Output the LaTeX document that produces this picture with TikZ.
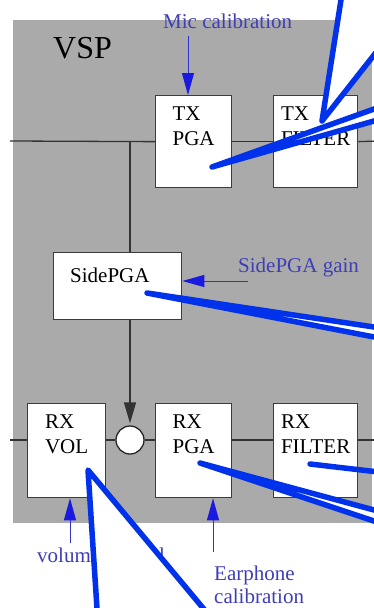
\documentclass[tikz,border=0pt]{standalone}
\usepackage{fontspec}
\setmainfont{Liberation Serif}
\usetikzlibrary{arrows.meta}
\definecolor{vspgray}{RGB}{170,170,170}
\definecolor{lblblue}{RGB}{62,62,185}
\definecolor{arrblue}{RGB}{25,25,225}
\definecolor{callblue}{RGB}{0,50,235}
\definecolor{boxedge}{RGB}{60,60,60}
\begin{document}
\begin{tikzpicture}[x=1pt,y=-1pt,
  blk/.style={draw=boxedge, line width=1.3pt, fill=white, inner sep=0pt, anchor=north west},
  boxtxt/.style={inner sep=0pt, align=left, anchor=north, font=\fontsize{21}{25}\selectfont},
  sig/.style={draw=black!80, line width=1.3pt},
  lbl/.style={inner sep=0pt, text=lblblue, font=\fontsize{21}{23}\selectfont},
  larr/.style={draw=arrblue!75!gray, line width=1pt, -{Triangle[length=22pt,width=12pt,fill=arrblue,color=arrblue]}},
  callout/.style={draw=callblue, line width=5.5pt, fill=white, line join=round}]
\useasboundingbox (0,0) rectangle (374,608);
\clip (0,0) rectangle (374,608);
\fill[white] (0,0) rectangle (374,608);
\fill[vspgray] (13,20) rectangle (372,523);
\node[inner sep=0pt, anchor=base west, font=\fontsize{32}{36}\selectfont] (vsp) at (53,58) {VSP};

% boxes
\node[blk, minimum width=76pt, minimum height=92pt] (txpga) at (155,95) {};
\node[blk, minimum width=84pt, minimum height=92pt] (txfilt) at (273,95) {};
\node[blk, minimum width=128pt, minimum height=67pt] (sidepga) at (53,252) {};
\node[blk, minimum width=78pt, minimum height=94pt] (rxvol) at (27,403) {};
\node[blk, minimum width=76pt, minimum height=94pt] (rxpga) at (155,403) {};
\node[blk, minimum width=84pt, minimum height=94pt] (rxfilt) at (273,403) {};
\node[draw=black!85, line width=1.3pt, fill=white, circle, minimum size=28pt, inner sep=0pt] (sum) at (130,440) {};

% box texts
\node[boxtxt] (txpgaT) at (txpga.north |- 0,107) {TX\\PGA};
\node[boxtxt] (txfiltT) at (txfilt.north |- 0,107) {TX\\FILTER};
\node[inner sep=0pt, anchor=base west, font=\fontsize{21}{25}\selectfont] (sidepgaT) at (70,282) {SidePGA};
\node[boxtxt] (rxvolT) at (rxvol.north |- 0,415) {RX\\VOL};
\node[boxtxt] (rxpgaT) at (rxpga.north |- 0,415) {RX\\PGA};
\node[boxtxt] (rxfiltT) at (rxfilt.north |- 0,415) {RX\\FILTER};

% signal lines
\coordinate (tin) at (10,141);
\coordinate (tout) at (378,141);
\coordinate (jn) at (130,141);
\coordinate (bin) at (10,440);
\coordinate (bout) at (378,440);
\draw[sig] (tin) -- (txpga.west);
\draw[sig] (txpga.east) -- (txfilt.west);
\draw[sig] (txfilt.east) -- (tout);
\draw[sig] (jn) -- (jn |- sidepga.north);
\draw[sig, -{Triangle[length=21pt,width=12pt]}, shorten >=2pt] (jn |- sidepga.south) -- (sum.north);
\draw[sig] (bin) -- (bin -| rxvol.west);
\draw[sig] (sum.west -| rxvol.east) -- (sum.west);
\draw[sig] (sum.east) -- (sum.east -| rxpga.west);
\draw[sig] (sum.east -| rxpga.east) -- (sum.east -| rxfilt.west);
\draw[sig] (sum.east -| rxfilt.east) -- (bout);

% control labels
\node[lbl, anchor=base west] (mic) at (163,28) {Mic calibration};
\coordinate (micS) at (188,36);
\draw[larr] (micS) -- (micS |- txpga.north);
\node[lbl, anchor=base west] (spg) at (238,272) {SidePGA gain};
\coordinate (spgS) at (248,281);
\draw[larr] (spgS) -- (spgS -| sidepga.east);
\node[lbl, anchor=base west] (vol) at (37,562) {volume control};
\coordinate (volS) at (70,543);
\draw[larr] (volS) -- (volS |- rxvol.south);
\node[lbl, anchor=north west, align=left] (ear) at (214,566) {Earphone\\calibration};
\coordinate (earS) at (213,552);
\draw[larr] (earS) -- (earS |- rxpga.south);

% callout wedges
\draw[callout] (322,121) -- (344.1,-20) -- (400,-20) -- (400,22) -- cycle;
\draw[callout] (212,167) -- (400,99.7) -- (400,113.6) -- cycle;
\draw[callout] (147,293) -- (400,330.9) -- (400,342.0) -- cycle;
\draw[callout] (200,463) -- (400,517.0) -- (400,529.7) -- cycle;
\draw[draw=callblue, line width=5.5pt, line cap=round] (310,464) -- (400,474.5);
\draw[callout] (88,470) -- (98.4,630) -- (221.3,630) -- cycle;
\end{tikzpicture}
\end{document}
